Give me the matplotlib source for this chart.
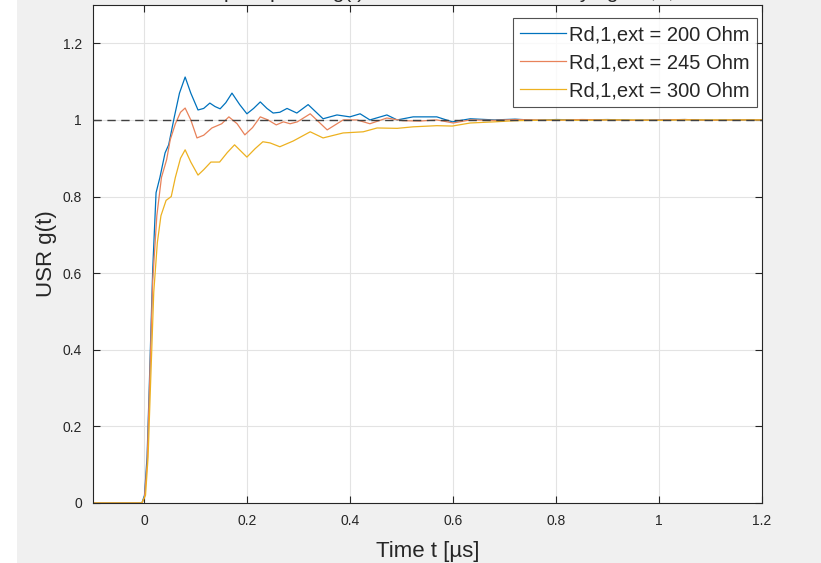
import matplotlib
matplotlib.use("Agg")
import matplotlib.pyplot as plt
from matplotlib.patches import Rectangle
import numpy as np

plt.rcParams['font.family'] = ['Liberation Sans', 'DejaVu Sans']

# step responses (time in us)
t_200 = [-0.1, -0.005, 0.0, 0.005, 0.009, 0.016, 0.0225, 0.03, 0.04, 0.047, 0.058, 0.068, 0.079,
         0.09, 0.104, 0.115, 0.127, 0.137, 0.147, 0.158, 0.170, 0.185, 0.199, 0.212, 0.225, 0.238,
         0.25, 0.263, 0.277, 0.296, 0.318, 0.347, 0.374, 0.399, 0.419, 0.438, 0.471, 0.491, 0.522,
         0.568, 0.598, 0.633, 0.68, 0.72, 0.76, 0.8, 0.85, 0.9, 0.95, 1.0, 1.05, 1.1, 1.15, 1.2]
g_200 = [0.0, 0.0, 0.02, 0.12, 0.29, 0.61, 0.81, 0.85, 0.914, 0.935, 1.008, 1.07, 1.112,
         1.07, 1.026, 1.03, 1.044, 1.035, 1.029, 1.045, 1.07, 1.04, 1.016, 1.03, 1.047, 1.03,
         1.018, 1.02, 1.03, 1.018, 1.04, 1.003, 1.013, 1.008, 1.016, 1.0, 1.013, 1.0, 1.008,
         1.008, 0.995, 1.003, 1.0, 1.002, 0.999, 1.001, 1.0, 1.001, 0.999, 1.0, 1.001, 0.999, 1.0, 1.0]

t_245 = [-0.1, -0.005, 0.0, 0.005, 0.009, 0.016, 0.024, 0.033, 0.043, 0.05, 0.06, 0.07, 0.079,
         0.09, 0.102, 0.115, 0.131, 0.15, 0.164, 0.18, 0.195, 0.21, 0.225, 0.24, 0.256,
         0.27, 0.283, 0.297, 0.322, 0.355, 0.386, 0.413, 0.438, 0.471, 0.502, 0.535, 0.568,
         0.600, 0.633, 0.68, 0.72, 0.76, 0.8, 0.85, 0.9, 0.95, 1.0, 1.05, 1.1, 1.15, 1.2]
g_245 = [0.0, 0.0, 0.015, 0.1, 0.27, 0.58, 0.75, 0.85, 0.896, 0.948, 0.99, 1.02, 1.031,
         1.0, 0.953, 0.96, 0.979, 0.99, 1.008, 0.99, 0.961, 0.98, 1.008, 1.0, 0.987,
         0.995, 0.99, 0.995, 1.016, 0.974, 1.0, 1.0, 0.99, 1.005, 0.998, 0.997, 1.0,
         0.992, 1.0, 0.999, 1.001, 1.0, 0.999, 1.001, 1.0, 0.999, 1.0, 1.001, 0.999, 1.0, 1.0]

t_300 = [-0.1, -0.005, 0.002, 0.007, 0.011, 0.018, 0.025, 0.032, 0.042, 0.052, 0.06, 0.07, 0.079,
         0.09, 0.104, 0.115, 0.129, 0.146, 0.161, 0.175, 0.19, 0.199, 0.215, 0.23, 0.244,
         0.263, 0.289, 0.322, 0.347, 0.386, 0.425, 0.452, 0.491, 0.522, 0.568, 0.598, 0.633,
         0.68, 0.72, 0.76, 0.8, 0.85, 0.9, 0.95, 1.0, 1.05, 1.1, 1.15, 1.2]
g_300 = [0.0, 0.0, 0.02, 0.12, 0.28, 0.55, 0.68, 0.75, 0.79, 0.80, 0.85, 0.9, 0.922,
         0.89, 0.856, 0.87, 0.89, 0.89, 0.915, 0.935, 0.915, 0.903, 0.925, 0.943, 0.94,
         0.93, 0.945, 0.969, 0.953, 0.966, 0.969, 0.979, 0.978, 0.982, 0.985, 0.984, 0.992,
         0.995, 0.998, 0.999, 1.0, 0.999, 1.0, 1.0, 0.999, 1.0, 1.0, 1.0, 1.0]

labels = ['Rd,1,ext = 200 Ohm', 'Rd,1,ext = 245 Ohm', 'Rd,1,ext = 300 Ohm']
colors = ['#0072BD', '#E8825A', '#EDB120']

fig = plt.figure(figsize=(8.21, 5.63), dpi=100, facecolor='#f0f0f0')
# white strip on the far left of the screenshot
fig.patches.append(Rectangle((0, 0), 17 / 821, 1, transform=fig.transFigure,
                             facecolor='white', edgecolor='none', zorder=0))
ax = fig.add_axes([0.1133, 0.1066, 0.8149, 0.8845])

ax.plot(t_200, g_200, color=colors[0], lw=0.9, label=labels[0])
ax.plot(t_245, g_245, color=colors[1], lw=0.9, label=labels[1])
ax.plot(t_300, g_300, color=colors[2], lw=0.9, label=labels[2])
ax.axhline(1.0, color='#404040', lw=1.0, ls=(0, (6, 4)), zorder=3)

ax.set_xlim(-0.1, 1.2)
ax.set_ylim(0, 1.3)
ax.set_xticks([0, 0.2, 0.4, 0.6, 0.8, 1, 1.2])
ax.set_xticklabels(['0', '0.2', '0.4', '0.6', '0.8', '1', '1.2'])
ax.set_yticks([0, 0.2, 0.4, 0.6, 0.8, 1, 1.2])
ax.set_yticklabels(['0', '0.2', '0.4', '0.6', '0.8', '1', '1.2'])
ax.grid(True, color='#e3e3e3', lw=0.8)
ax.set_axisbelow(True)
ax.tick_params(direction='in', top=True, right=True, length=5, width=0.8,
               labelsize=10, labelcolor='#262626', color='#262626', pad=8)
for sp in ax.spines.values():
    sp.set_color('#262626')
    sp.set_linewidth(0.8)

ax.set_xlabel('Time t [µs]', fontsize=16, color='#262626', labelpad=9)
ax.set_ylabel('USR g(t)', fontsize=16, color='#262626', labelpad=4)
# title is mostly cut off at the top edge of the screenshot
ax.set_title('Unit step response g(t) of the converter for varying Rd,1,ext',
             fontsize=15, color='#262626', pad=5)

leg = ax.legend(loc='upper right', bbox_to_anchor=(0.9925, 0.974), fontsize=14.5,
                frameon=True, fancybox=False, edgecolor='#262626',
                handlelength=2.3, handletextpad=0.15, borderpad=0.35,
                labelspacing=0.45, borderaxespad=0)
leg.get_frame().set_linewidth(0.8)
for txt in leg.get_texts():
    txt.set_color('#262626')

fig.savefig('out.png', dpi=100, facecolor=fig.get_facecolor())
